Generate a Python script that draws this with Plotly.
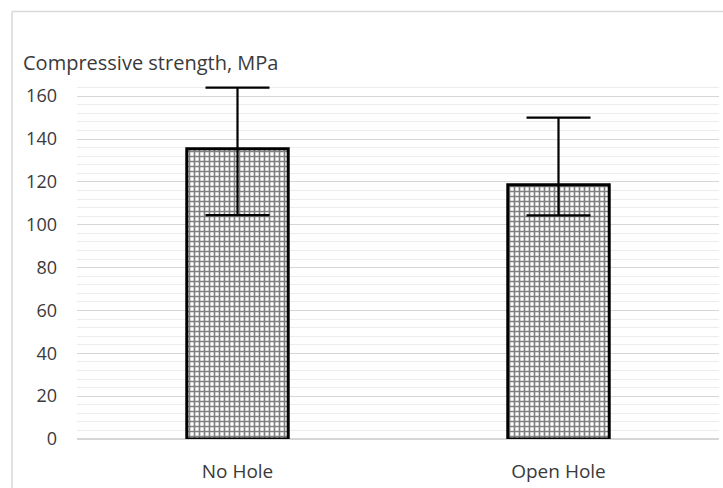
import plotly.graph_objects as go

categories = ["No Hole", "Open Hole"]
mean_strength = [135.5, 118.7]
err_plus = [28.5, 31.3]
err_minus = [31.0, 14.3]
y_ticks = [0, 20, 40, 60, 80, 100, 120, 140, 160]

W, H = 723, 488
L, R, T, B = 77, 4, 79, 46
pw = W - L - R
ph = H - T - B


def px_x(sx):
    return (sx - L) / pw


def px_y(sy):
    return (T + ph - sy) / ph


fig = go.Figure()
fig.add_trace(go.Bar(
    x=categories, y=mean_strength,
    marker=dict(
        color="white",
        line=dict(color="black", width=3),
        pattern=dict(shape="+", size=5, solidity=0.55, fgcolor="black", bgcolor="white"),
    ),
    error_y=dict(type="data", symmetric=False, array=err_plus, arrayminus=err_minus,
                 color="black", thickness=2.2, width=32),
    width=0.316,
))

fig.update_layout(
    width=W, height=H,
    margin=dict(l=L, r=R, t=T, b=B),
    paper_bgcolor="white", plot_bgcolor="white",
    font=dict(family="Open Sans", size=18, color="#3a3a3a"),
    showlegend=False,
    xaxis=dict(showgrid=False, showline=False, zeroline=False, ticks="",
               ticklabelstandoff=19, tickfont=dict(size=19),
               range=[-0.5, 1.5]),
    yaxis=dict(range=[0, 168], tickvals=y_ticks, showgrid=True, gridcolor="#d6d6d6",
               gridwidth=1.3, zeroline=True, zerolinecolor="#d6d6d6", zerolinewidth=1.5,
               showline=False, ticks="", ticklabelstandoff=19, tickfont=dict(size=18),
               minor=dict(dtick=4, showgrid=True, gridcolor="#ececec", gridwidth=1)),
    annotations=[dict(text="Compressive strength, MPa", xref="paper", yref="paper",
                      x=px_x(21), y=px_y(62), xanchor="left", yanchor="middle",
                      showarrow=False, font=dict(size=20, color="#3a3a3a"))],
    shapes=[
        dict(type="line", xref="paper", yref="paper", x0=px_x(12), x1=px_x(730),
             y0=px_y(11), y1=px_y(11), line=dict(color="#d9d9d9", width=1.5)),
        dict(type="line", xref="paper", yref="paper", x0=px_x(12), x1=px_x(12),
             y0=px_y(11), y1=px_y(495), line=dict(color="#d9d9d9", width=1.5)),
    ],
)

fig.write_html("out.html", config={"displayModeBar": False},
               post_script="document.body.style.margin='0';")
